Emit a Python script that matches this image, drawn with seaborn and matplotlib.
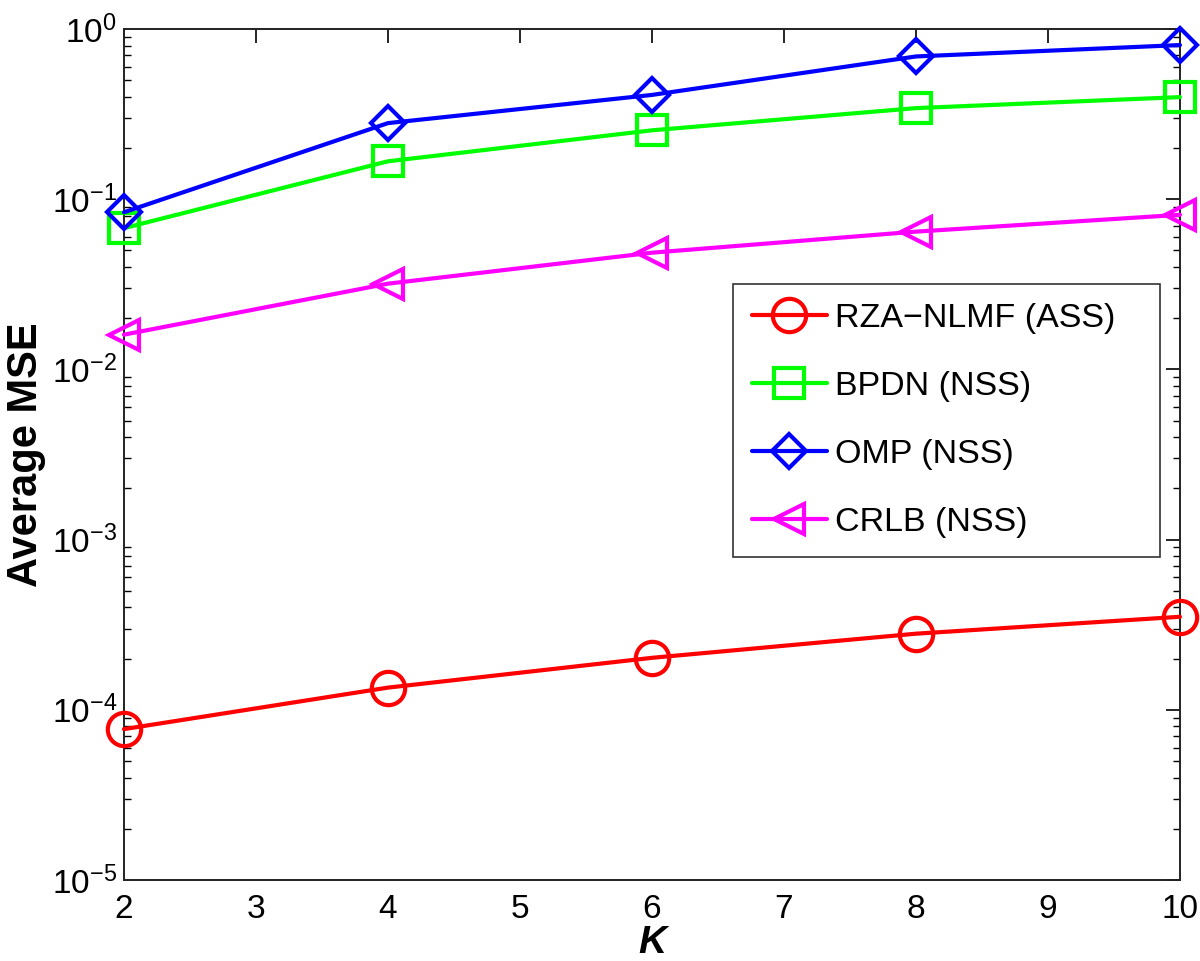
import numpy as np
import pandas as pd
import matplotlib
matplotlib.use("Agg")
import matplotlib.pyplot as plt
import seaborn as sns
from matplotlib.ticker import LogLocator, NullFormatter, FixedLocator

K = [2, 4, 6, 8, 10]
rza = [7.7e-5, 1.35e-4, 2.02e-4, 2.8e-4, 3.52e-4]
bpdn = [0.0676, 0.167, 0.254, 0.343, 0.398]
omp = [0.0838, 0.28, 0.41, 0.69, 0.805]
crlb = [0.016, 0.0319, 0.0485, 0.0645, 0.081]

labels = ["RZA\u2212NLMF (ASS)", "BPDN (NSS)", "OMP (NSS)", "CRLB (NSS)"]
series = [rza, bpdn, omp, crlb]
colors = ["#ff0000", "#00ff00", "#0000ff", "#ff00ff"]
markers = ["o", "s", "D", "<"]
msizes = [24, 21, 17, 22]

sns.set_theme(style="white")
plt.rcParams['font.family'] = ['Liberation Sans', 'DejaVu Sans']
plt.rcParams['axes.unicode_minus'] = True
plt.rcParams['mathtext.fontset'] = 'custom'
plt.rcParams['mathtext.rm'] = 'Liberation Sans'
plt.rcParams['mathtext.it'] = 'Liberation Sans:italic'
plt.rcParams['mathtext.bf'] = 'Liberation Sans:bold'
plt.rcParams['text.color'] = 'black'
plt.rcParams['axes.labelcolor'] = 'black'

fig = plt.figure(figsize=(12, 9.61), dpi=100)
ax = fig.add_axes([0.1033, 0.0843, 0.88, 0.8855])

for lab, vals, c, m, ms in zip(labels, series, colors, markers, msizes):
    df = pd.DataFrame({"K": K, "MSE": vals})
    sns.lineplot(data=df, x="K", y="MSE", ax=ax, color=c, marker=m,
                 markersize=ms, markerfacecolor="none", markeredgecolor=c,
                 markeredgewidth=3, linewidth=3, label=lab, clip_on=False,
                 zorder=3)

ax.set_yscale("log")
ax.set_xlim(2, 10)
ax.set_ylim(1e-5, 1e0)
ax.xaxis.set_major_locator(FixedLocator(range(2, 11)))
ax.yaxis.set_major_locator(LogLocator(base=10, numticks=10))
ax.yaxis.set_minor_locator(LogLocator(base=10, subs=np.arange(2, 10), numticks=20))
ax.yaxis.set_minor_formatter(NullFormatter())

ax.tick_params(axis="both", which="both", direction="in", top=True, right=True,
               labelsize=24, colors="#000000", labelcolor="#000000")
ax.tick_params(axis="both", which="major", length=10, width=1.2)
ax.tick_params(axis="x", which="major", pad=10)
ax.tick_params(axis="y", which="major", pad=5)
ax.tick_params(axis="y", which="minor", length=5, width=1.0, left=True, right=True)
ax.tick_params(axis="x", which="minor", bottom=False, top=False)
for sp in ax.spines.values():
    sp.set_color("#222222")
    sp.set_linewidth(1.4)

ax.set_xlabel("K", fontsize=28, fontweight="bold", fontstyle="italic", labelpad=0)
ax.set_ylabel("Average MSE", fontsize=30, fontweight="bold", labelpad=4)

leg = ax.legend(loc="upper left", bbox_to_anchor=(0.5767, 0.3, 0.4044, 0.4004),
                mode="expand", fontsize=24.5,
                frameon=True, fancybox=False, edgecolor="#000000",
                handlelength=2.2, labelspacing=1.09, borderpad=0.55,
                handletextpad=0.25, borderaxespad=0)
leg.get_frame().set_linewidth(1.2)

fig.savefig("out.png", dpi=100)
